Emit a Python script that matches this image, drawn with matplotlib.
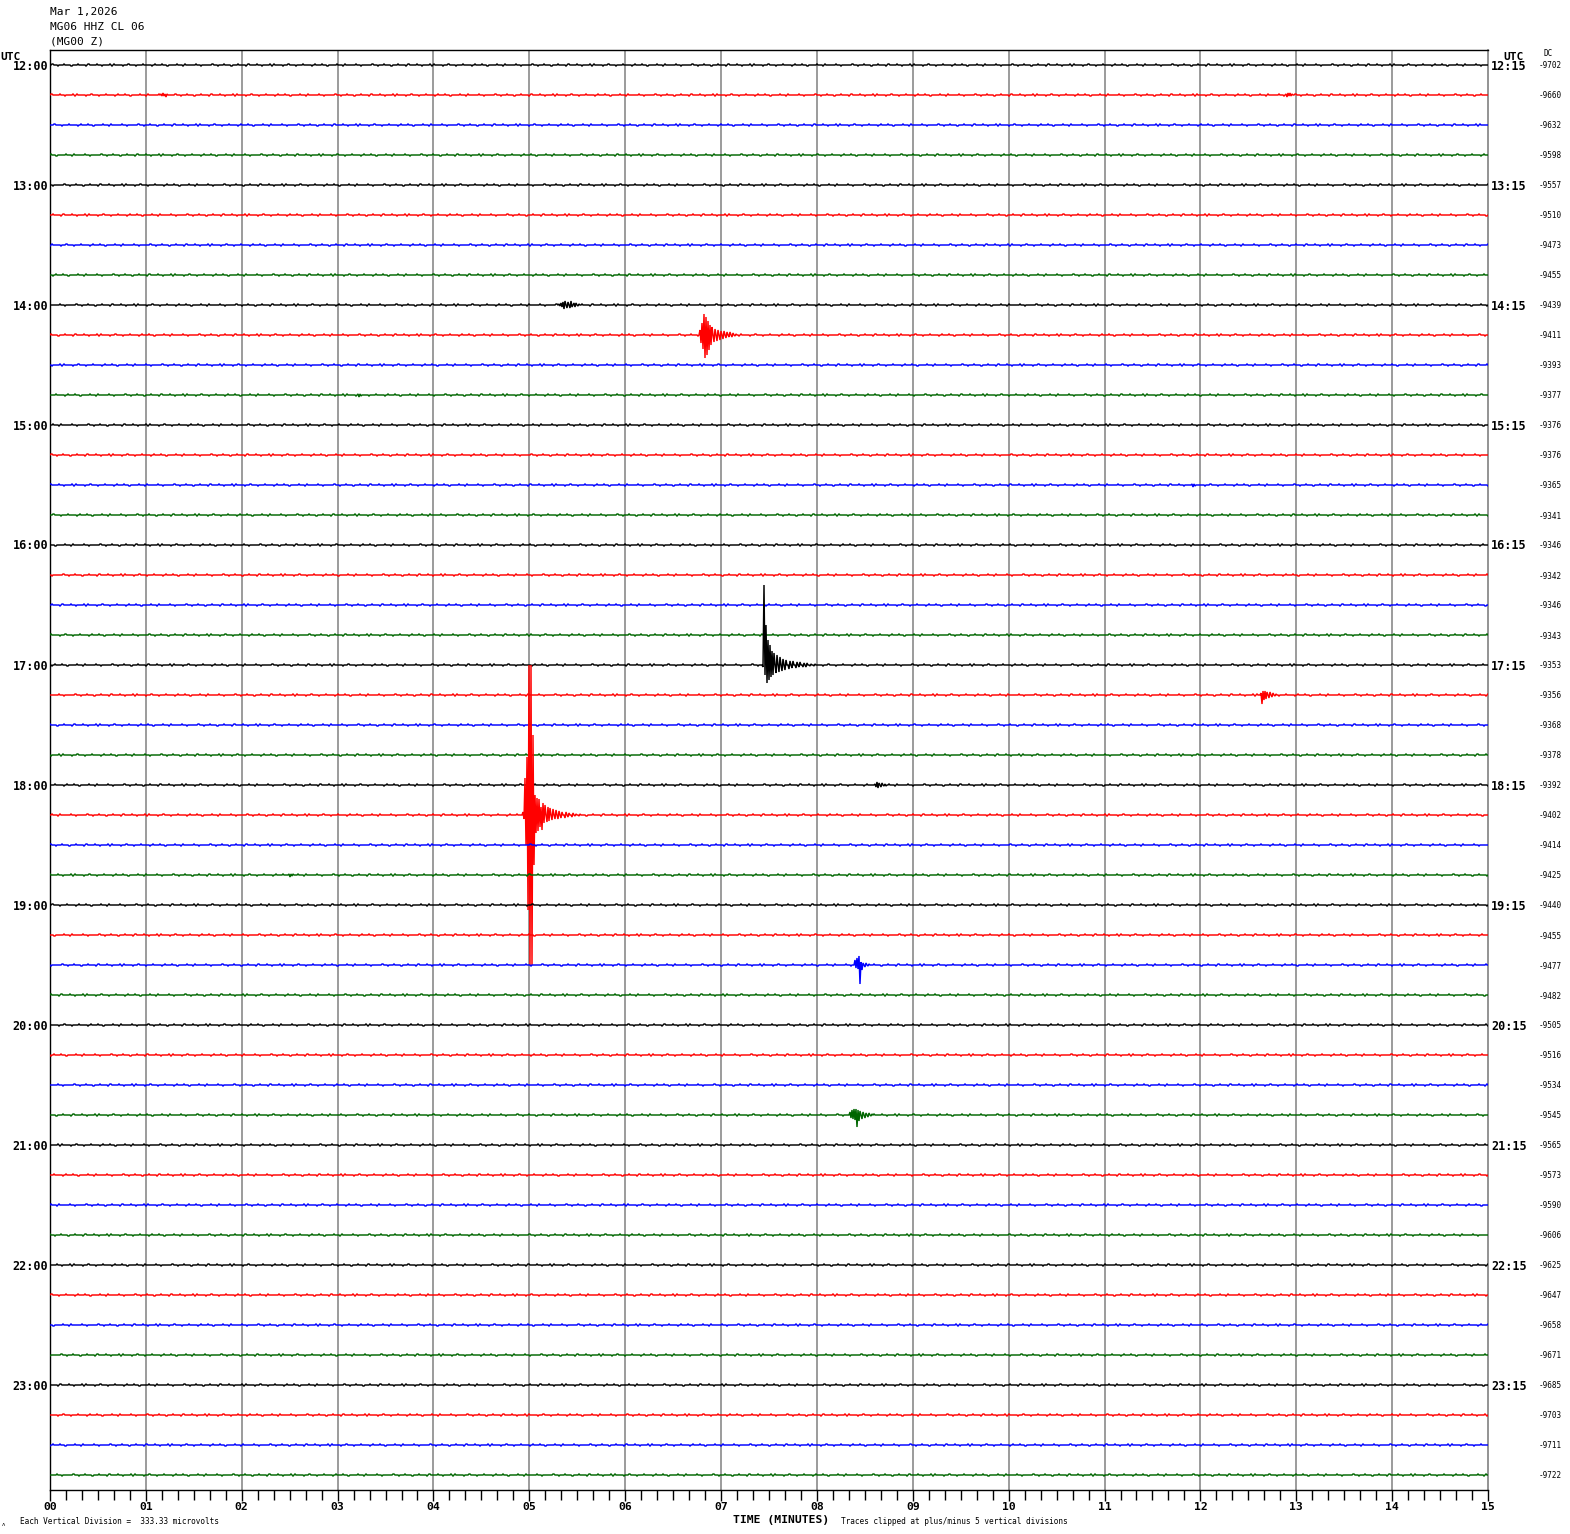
import numpy as np
import matplotlib
matplotlib.use("Agg")
import matplotlib.pyplot as plt

W, H = 1570, 1534

# ---------------- data ----------------
title_lines = ["Mar 1,2026", "MG06 HHZ CL 06", "(MG00 Z)"]
left_labels = ["12:00", "13:00", "14:00", "15:00", "16:00", "17:00",
               "18:00", "19:00", "20:00", "21:00", "22:00", "23:00"]
right_labels = ["12:15", "13:15", "14:15", "15:15", "16:15", "17:15",
                "18:15", "19:15", "20:15", "21:15", "22:15", "23:15"]
dc_values = [-9702, -9660, -9632, -9598, -9557, -9510, -9473, -9455,
             -9439, -9411, -9393, -9377, -9376, -9376, -9365, -9341,
             -9346, -9342, -9346, -9343, -9353, -9356, -9368, -9378,
             -9392, -9402, -9414, -9425, -9440, -9455, -9477, -9482,
             -9505, -9516, -9534, -9545, -9565, -9573, -9590, -9606,
             -9625, -9647, -9658, -9671, -9685, -9703, -9711, -9722]
minute_labels = ["00", "01", "02", "03", "04", "05", "06", "07",
                 "08", "09", "10", "11", "12", "13", "14", "15"]
trace_colors = ["#000000", "#ff0000", "#0000ff", "#006600"]

# background wiggle pattern (in 1/30 vertical division, 1 sample per pixel)
noise_pattern = [0, 0, 1, 1, 0, 0, 0, 0, -1, 0, 0, 0, 0, 0, 1, 0, 0, 0, 0, 0,
                 0, -1, -1, 0, 0, 0, 0, 0, 1, 0, 0, 0, 0, 0, 0, 0, -1, 0, 1, 1,
                 0, 0, 0, 0, 0, 0, 0, 1, 0, 0, 0, 0, -1, 0, 0, 0, 0, 0, 0, 0,
                 1, 0, -1, 0, 1, 0, 0, 0, 0, 0, 0, 0, 0, -1, 0, 0, 0, 0, 1, 1,
                 0, 0, 0, 0, 0, 0, -1, 0, 0, 0, 0, 0, 0, 1, 0, 0, 0, 0, 0, 0,
                 0, 0, -1, 0, 0, 1, 0, 0, 0, 0, 0, 0, 1, 0, 0, 0, 0, -1, -1, 0,
                 0, 0, 0, 0, 0, 0, 0, 1, 0, 0, 0, 0, 0, -1, 0, 1, 0, 0, 0, 0,
                 0, 0, 0, 0, 0, 0, 1, 0, 0, 0, 0, -1, 0, 0, 0, 0, 0, 0, 0, 0]

# events: trace row, start minute, samples (1/30 division, 1 per pixel)
event_rows = [1, 1, 8, 9, 11, 14, 20, 21, 24, 25, 27, 30, 35]
event_start = [1.15, 12.88, 5.30, 6.77, 3.20, 11.90, 7.43, 12.62, 8.60, 4.92, 2.48, 8.39, 8.33]
event_samples = [
    [0, 1, -1, 2, -1, 1, -2, 1, 0],
    [0, 1, -2, 2, -1, 2, -1, 1, 0],
    [0, 1, -1, 2, -2, 3, -4, 4, 0, -3, 3, 0, -3, 4, -2, 0, 2, -2, 2, 0, -1, 1, 0],
    [0, 5, -8, 12, -14, 21, -23, 18, -20, 14, -15, 10, -10, 8, 0, -7, 6, 0, -6, 5,
     0, -5, 4, 0, -4, 4, 0, -3, 3, 0, -2, 3, 0, -2, 2, 0, -1, 1, 0],
    [0, 1, -2, 1, -1, 0],
    [0, 1, -2, 1, -1, 0],
    [0, -2, 80, -10, 40, -18, 25, -15, 20, -12, 14, -10, 12, 0, -8, 10, 0, -7, 8,
     0, -6, 6, 0, -5, 5, 0, 0, -4, 4, 0, -3, 4, 0, 0, -3, 3, 0, -2, 3, 0, 0, -2, 2,
     0, -2, 2, 0, 0, -1, 1, 0, 0, -1, 1, 0],
    [0, 2, -9, 4, -5, 4, -4, 3, 0, -3, 3, 0, -2, 2, 0, -1, 1, 0],
    [0, 1, -2, 3, -3, 2, 0, -2, 2, 0, -1, 1, -1, 0],
    [0, 3, -4, 37, -30, 58, -95, 160, -160, 160, -160, 80, -50, 20, -18, 17,
     -16, 16, -12, 8, -15, 12, -8, 10, 0, -7, 8, -6, 7, 0, -5, 6, 0, -4, 5, 0, -4,
     4, 0, -3, 3, 0, 0, -3, 3, 0, -2, 2, 0, 0, -2, 2, 0, -1, 1, 0, 0, -1, 1, 0],
    [0, 1, -2, 1, -1, 1, 0],
    [0, 5, -3, 7, -4, 9, -19, 3, -5, 2, 0, -2, 2, 0, -1, 1, 0],
    [0, 3, -3, 5, -4, 6, -5, 6, -12, 5, -6, 4, 0, -4, 3, 0, -3, 2, 0, -2, 2, 0,
     -1, 1, 0],
]
clip_divisions = 5

# ---------------- drawing ----------------
fig = plt.figure(figsize=(W / 100, H / 100), dpi=100)
fig.patch.set_facecolor("white")

ax_l, ax_r, ax_t, ax_b = 50, 1488, 50, 1490
ax = fig.add_axes([ax_l / W, 1 - ax_b / H, (ax_r - ax_l) / W, (ax_b - ax_t) / H])
n_traces = len(dc_values)
ax.set_xlim(0, 15)
ax.set_ylim(n_traces - 0.5, -0.5)

px_per_min = (ax_r - ax_l) / 15.0
n_samp = int(round(15 * px_per_min)) + 1
t = np.linspace(0, 15, n_samp)
npat = len(noise_pattern)
pat = np.array(noise_pattern, dtype=float)

for i in range(n_traces):
    idx = (np.arange(n_samp) + i * 37) % npat
    sig = pat[idx].copy()
    for r, s0, samp in zip(event_rows, event_start, event_samples):
        if r != i:
            continue
        k0 = int(round(s0 * px_per_min))
        for j, v in enumerate(samp):
            if 0 <= k0 + j < n_samp:
                sig[k0 + j] = v
    sig = np.clip(sig / 30.0, -clip_divisions, clip_divisions)
    ax.plot(t, i - sig, color=trace_colors[i % 4], lw=1.05,
            solid_joinstyle="miter", zorder=3)

for m in range(1, 15):
    ax.axvline(m, color="#808080", lw=1.1, zorder=1)

for side in ["top", "left", "bottom"]:
    ax.spines[side].set_color("black")
    ax.spines[side].set_linewidth(1.0)
ax.spines["right"].set_color("#808080")
ax.spines["right"].set_linewidth(1.2)

ax.set_yticks([])
ax.set_xticks(range(16))
ax.set_xticks(np.arange(0, 15.001, 1 / 6), minor=True)
ax.set_xticklabels(minute_labels, fontfamily="DejaVu Sans Mono",
                   fontweight="bold", fontsize=8.2)
ax.tick_params(axis="x", which="major", length=8, width=1, pad=0.5, direction="out")
ax.tick_params(axis="x", which="minor", length=7, width=1, direction="out")


def ftext(x, y, s, **kw):
    fig.text(x / W, 1 - y / H, s, fontfamily="DejaVu Sans Mono", **kw)


for k, line in enumerate(title_lines):
    ftext(50, 12 + 15 * k, line, fontsize=8, va="center", ha="left")

ftext(0, 57, "UTC", fontsize=8, fontweight="bold", va="center", ha="left")
ftext(1503, 57, "UTC", fontsize=8, fontweight="bold", va="center", ha="left")
ftext(1543, 54, "DC", fontsize=5.5, va="center", ha="left")

for k in range(12):
    y = 65 + 120 * k
    ftext(48, y + 1, left_labels[k], fontsize=8.5, fontweight="bold", va="center", ha="right")
    ftext(1491, y + 1, right_labels[k], fontsize=8.5, fontweight="bold", va="center", ha="left")

for i, v in enumerate(dc_values):
    ftext(1539, 66 + 30 * i, str(v), fontsize=5.5, va="center", ha="left")

ftext(733, 1520, "TIME (MINUTES)", fontsize=8.2, fontweight="bold", va="center", ha="left")
ftext(20, 1521, "Each Vertical Division =  333.33 microvolts", fontsize=5.6, va="center", ha="left")
ftext(841, 1521, "Traces clipped at plus/minus 5 vertical divisions", fontsize=5.6, va="center", ha="left")
ftext(2, 1524, "ʌ", fontsize=4, va="center", ha="left")

fig.savefig("out.png", dpi=100, facecolor="white")
